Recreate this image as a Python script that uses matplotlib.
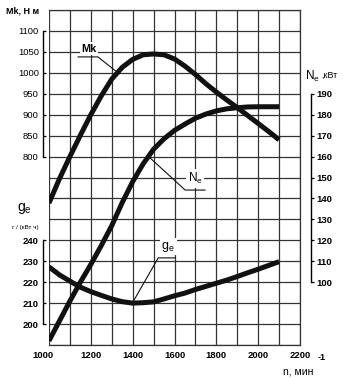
import matplotlib
matplotlib.use("Agg")
import matplotlib.pyplot as plt
import matplotlib.transforms as mtransforms
import numpy as np

plt.rcParams['font.family'] = ['Liberation Sans', 'DejaVu Sans']
plt.rcParams['mathtext.fontset'] = 'custom'
plt.rcParams['mathtext.rm'] = 'Liberation Sans'

# engine speed, rpm
rpm = [1000, 1050, 1100, 1150, 1200, 1250, 1300, 1350, 1400, 1450, 1500, 1550,
       1600, 1650, 1700, 1750, 1800, 1850, 1900, 1950, 2000, 2050, 2100]
# torque Mk, N*m
mk = [689, 747, 800, 851, 900, 945, 985, 1013, 1032, 1043, 1045, 1043,
      1033, 1016, 996, 974, 954, 935, 917, 898, 879, 860, 840]
# power Ne, kW
ne = [72, 81.5, 91, 100, 108.5, 117.5, 127, 138, 148, 156.5, 163.5, 168.5,
      172.5, 175.5, 178.3, 180.3, 181.8, 182.8, 183.3, 183.7, 183.8, 183.8, 183.8]
# specific fuel consumption ge, g/(kW h)
ge = [227.3, 223.5, 220.5, 217.6, 215.5, 213.7, 212, 210.7, 210, 210.2, 210.6, 212,
      213.5, 214.8, 216.5, 218, 219.5, 221, 222.7, 224.5, 226.2, 228, 229.8]

x_ticks = [1000, 1200, 1400, 1600, 1800, 2000, 2200]
mk_ticks = [800, 850, 900, 950, 1000, 1050, 1100]
ne_ticks = [100, 110, 120, 130, 140, 150, 160, 170, 180, 190]
ge_ticks = [200, 210, 220, 230, 240]

W, H = 346, 378
fig = plt.figure(figsize=(W / 100, H / 100), dpi=100)
ax = fig.add_axes([49 / W, 1 - 345 / H, (300 - 49) / W, (345 - 10) / H])

GRID = '#333333'
LINE = '#111111'
TFS = 6.8

# grid / torque axis
ax.set_xlim(1000, 2200)
ax.set_ylim(350, 1150)
ax.set_xticks(x_ticks)
ax.set_xticks(np.arange(1000, 2201, 100), minor=True)
ax.set_yticks(mk_ticks)
ax.set_yticks(np.arange(350, 1151, 50), minor=True)
ax.set_axisbelow(True)
ax.grid(which='both', color=GRID, lw=0.9)
ax.tick_params(axis='x', which='both', length=0, pad=4, labelsize=TFS)
ax.tick_params(axis='y', which='minor', length=0)
ax.tick_params(axis='y', which='major', direction='in', length=2.5,
               width=0.9, pad=3, labelsize=TFS)
for lab in ax.get_xticklabels():
    lab.set_fontweight('bold')
for lab in ax.get_yticklabels():
    lab.set_fontweight('bold')
ax.spines['left'].set_position(('outward', 4.3))
ax.spines['left'].set_bounds(800, 1100)
for s in ['top', 'right', 'bottom']:
    ax.spines[s].set_color(GRID)
    ax.spines[s].set_linewidth(0.9)
ax.spines['left'].set_linewidth(1.0)
first = ax.get_xticklabels()[0]
first.set_transform(first.get_transform() +
                    mtransforms.ScaledTranslation(-6 / 100, 0, fig.dpi_scale_trans))

ax.plot(rpm, mk, color=LINE, lw=3.6, solid_capstyle='butt', zorder=3)

# power axis (right)
ax_ne = ax.twinx()
ax_ne.set_ylim(70, 230)
ax_ne.set_yticks(ne_ticks)
for s in ['top', 'left', 'bottom']:
    ax_ne.spines[s].set_visible(False)
ax_ne.spines['right'].set_position(('outward', 8.0))
ax_ne.spines['right'].set_bounds(100, 190)
ax_ne.spines['right'].set_linewidth(1.0)
ax_ne.tick_params(axis='y', direction='out', length=2.5, width=0.9, pad=1.5,
                  labelsize=TFS)
for lab in ax_ne.get_yticklabels():
    lab.set_fontweight('bold')
ax_ne.plot(rpm, ne, color=LINE, lw=3.6, solid_capstyle='butt', zorder=3)

# fuel consumption axis (left, lower)
ax_ge = ax.twinx()
ax_ge.set_ylim(190, 350)
ax_ge.set_yticks(ge_ticks)
ax_ge.yaxis.set_ticks_position('left')
for s in ['top', 'right', 'bottom']:
    ax_ge.spines[s].set_visible(False)
ax_ge.spines['left'].set_visible(True)
ax_ge.spines['left'].set_position(('outward', 4.3))
ax_ge.spines['left'].set_bounds(200, 240)
ax_ge.spines['left'].set_linewidth(1.0)
ax_ge.tick_params(axis='y', direction='in', length=2.5, width=0.9, pad=3,
                  labelsize=TFS)
for lab in ax_ge.get_yticklabels():
    lab.set_fontweight('bold')
ax_ge.plot(rpm, ge, color=LINE, lw=3.6, solid_capstyle='butt', zorder=3)

# curve labels with leader lines
box = dict(facecolor='white', edgecolor='none', pad=1.2)
ax.plot([1139, 1234, 1322], [1038, 1038, 1003], color=LINE, lw=0.8, zorder=4)
ax.text(1191, 1058, 'Mk', ha='center', va='center', fontsize=7.8,
        fontweight='bold', bbox=box, zorder=5)

ax_ne.plot([1476, 1651, 1746], [160, 144, 144], color=LINE, lw=0.8, zorder=4)
ax_ne.text(1700, 149.5, r'N$_\mathregular{e}$', ha='center', va='center',
           fontsize=8.5, bbox=box, zorder=5)

ax_ge.plot([1400, 1522, 1603], [210.3, 231.6, 231.6], color=LINE, lw=0.8, zorder=4)
ax_ge.text(1570, 237, r'g$_\mathregular{e}$', ha='center', va='center',
           fontsize=9, bbox=box, zorder=5)

# axis titles
fig.text(6 / W, 1 - 11 / H, 'Mk, Н м', ha='left', va='center',
         fontsize=6.5, fontweight='bold')
fig.text(17 / W, 1 - 208 / H, r'g$_\mathregular{e}$', ha='left', va='center',
         fontsize=10)
fig.text(12 / W, 1 - 227 / H, 'г / (кВт ч)', ha='left', va='center',
         fontsize=4.6)
fig.text(305 / W, 1 - 76 / H, r'N$_\mathregular{e}$', ha='left', va='center',
         fontsize=8.5)
fig.text(321 / W, 1 - 75 / H, ',кВт', ha='left', va='center', fontsize=6.4)
fig.text(283 / W, 1 - 371 / H, 'n, мин', ha='left', va='center', fontsize=7.5)
fig.text(318 / W, 1 - 357 / H, '-1', ha='left', va='center', fontsize=6.5,
         fontweight='bold')

fig.savefig('out.png', dpi=100)
